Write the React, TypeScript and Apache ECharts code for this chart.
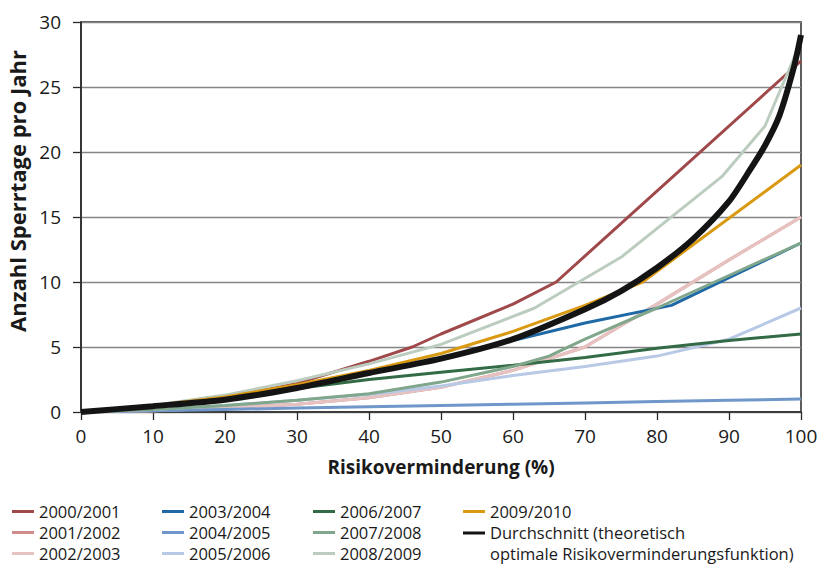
import React, { useEffect, useRef } from "react";
import * as echarts from "echarts";

// ---- data ----
const seriesNames = [
  "2000/2001",
  "2001/2002",
  "2002/2003",
  "2003/2004",
  "2004/2005",
  "2005/2006",
  "2006/2007",
  "2007/2008",
  "2008/2009",
  "2009/2010",
  "Durchschnitt (theoretisch optimale Risikoverminderungsfunktion)",
];

const d2000_2001 = [[0, 0], [10, 0.5], [20, 1.1], [30, 2.2], [40, 3.9], [46, 5], [50, 6.0], [60, 8.3], [66, 10], [100, 27]];
const d2001_2002 = [[0, 0], [10, 0.1], [20, 0.3], [30, 0.6], [40, 1.1], [50, 1.9], [60, 3.2], [70, 5.0], [80, 8.3], [90, 11.7], [100, 15]];
const d2002_2003 = [[0, 0], [10, 0.1], [20, 0.3], [30, 0.6], [40, 1.1], [50, 1.9], [60, 3.2], [70, 5.0], [80, 8.3], [90, 11.7], [100, 15]];
const d2003_2004 = [[0, 0], [10, 0.45], [20, 0.95], [30, 1.85], [40, 3.0], [50, 4.1], [56, 4.95], [70, 6.85], [82, 8.2], [100, 13]];
const d2004_2005 = [[0, 0], [10, 0.1], [20, 0.2], [30, 0.3], [40, 0.4], [50, 0.5], [60, 0.6], [70, 0.7], [80, 0.8], [90, 0.9], [100, 1]];
const d2005_2006 = [[0, 0], [10, 0.2], [20, 0.5], [30, 0.9], [40, 1.35], [50, 2.0], [60, 2.8], [70, 3.5], [80, 4.3], [90, 5.6], [100, 8]];
const d2006_2007 = [[0, 0], [10, 0.45], [20, 1.0], [30, 1.8], [40, 2.5], [50, 3.05], [60, 3.6], [70, 4.2], [80, 4.9], [90, 5.5], [100, 6]];
const d2007_2008 = [[0, 0], [10, 0.2], [20, 0.5], [30, 0.9], [40, 1.4], [50, 2.3], [60, 3.5], [65, 4.3], [70, 5.6], [80, 8.0], [90, 10.5], [100, 13]];
const d2008_2009 = [[0, 0], [10, 0.5], [20, 1.3], [30, 2.4], [40, 3.7], [50, 5.2], [63, 8.0], [75, 11.9], [89, 18.1], [95, 22], [100, 28.5]];
const d2009_2010 = [[0, 0], [10, 0.5], [20, 1.15], [30, 2.1], [40, 3.2], [50, 4.5], [60, 6.2], [70, 8.2], [78, 10.0], [100, 19]];
const dAverage = [[0, 0], [10, 0.45], [20, 0.95], [30, 1.85], [40, 3.0], [50, 4.1], [60, 5.6], [70, 7.9], [75, 9.3], [80, 11.1], [85, 13.3], [90, 16.2], [93, 18.7], [95, 20.5], [97, 22.8], [99, 26.5], [100, 29]];

const seriesData = [
  d2000_2001, d2001_2002, d2002_2003, d2003_2004, d2004_2005, d2005_2006,
  d2006_2007, d2007_2008, d2008_2009, d2009_2010, dAverage,
];

const seriesColors = [
  "#a0494b", "#d08c8a", "#e6c2c1", "#1f6aa6", "#6f97c9", "#b8c9e6",
  "#336b47", "#80a68b", "#bccdbf", "#d99a12", "#141414",
];

const xTicks = [0, 10, 20, 30, 40, 50, 60, 70, 80, 90, 100];
const yTicks = [0, 5, 10, 15, 20, 25, 30];

const FONT = "'Open Sans', 'Noto Sans', sans-serif";

export default function App() {
  const ref = useRef<HTMLDivElement>(null);
  useEffect(() => {
    if (!ref.current) return;
    const chart = echarts.init(ref.current, null, { renderer: "svg" });
    const legendText = { fontFamily: FONT, fontSize: 16.5, color: "#1a1a1a", lineHeight: 21 };
    const baseLegend = {
      orient: "vertical",
      itemWidth: 22,
      itemHeight: 3,
      itemGap: 0,
      icon: "rect",
      textStyle: legendText,
      selectedMode: false,
      padding: 0,
      height: 120,
      width: 400,
    };
    const avgName = seriesNames[10];
    const option: any = {
      animation: false,
      backgroundColor: "#ffffff",
      grid: {
        left: 81,
        right: 16,
        top: 22,
        bottom: 153,
        show: true,
        borderColor: "#2a2a2a",
        borderWidth: 1.5,
        containLabel: false,
        outerBoundsMode: "none",
      },
      xAxis: {
        type: "value",
        min: 0,
        max: 100,
        interval: 10,
        name: "Risikoverminderung (%)",
        nameLocation: "middle",
        nameGap: 45,
        nameTextStyle: { fontFamily: FONT, fontSize: 19, fontWeight: "bold", color: "#1a1a1a" },
        axisLine: { show: true, lineStyle: { color: "#2a2a2a", width: 1.5 } },
        axisTick: { show: true, inside: false, length: 8, lineStyle: { color: "#2a2a2a", width: 1.3 } },
        axisLabel: {
          fontFamily: FONT, fontSize: 19, color: "#1a1a1a", margin: 14,
          formatter: (v: number) => (xTicks.includes(v) ? String(v) : ""),
        },
        splitLine: { show: false },
      },
      yAxis: {
        type: "value",
        min: 0,
        max: 30,
        interval: 5,
        name: "Anzahl Sperrtage pro Jahr",
        nameLocation: "middle",
        nameGap: 50,
        nameTextStyle: {
          fontFamily: FONT, fontSize: 22, fontWeight: "bold", color: "#1a1a1a",
          padding: [0, 0, 0, 52],
        },
        axisLine: { show: true, lineStyle: { color: "#2a2a2a", width: 1.5 } },
        axisTick: { show: true, inside: false, length: 8, lineStyle: { color: "#2a2a2a", width: 1.3 } },
        axisLabel: {
          fontFamily: FONT, fontSize: 19, color: "#1a1a1a", margin: 20,
          formatter: (v: number) => (yTicks.includes(v) ? String(v) : ""),
        },
        splitLine: { show: true, lineStyle: { color: "#858585", width: 1.3 } },
      },
      legend: [
        { ...baseLegend, left: 12, top: 501, data: seriesNames.slice(0, 3) },
        { ...baseLegend, left: 162, top: 501, data: seriesNames.slice(3, 6) },
        { ...baseLegend, left: 313, top: 501, data: seriesNames.slice(6, 9) },
        { ...baseLegend, left: 463, top: 501, data: seriesNames.slice(9, 10) },
        {
          ...baseLegend,
          left: 463,
          top: 522,
          itemHeight: 24,
          icon: "path://M0,0H22V3H0Z M0,23H0.05V23.05H0Z",
          data: [avgName],
          formatter: () => "Durchschnitt (theoretisch\noptimale Risikoverminderungsfunktion)",
        },
      ],
      series: seriesNames.map((name, i) => ({
        name,
        type: "line",
        data: seriesData[i],
        showSymbol: false,
        symbol: "none",
        smooth: i === 10 ? 0.25 : false,
        color: seriesColors[i],
        lineStyle: { color: seriesColors[i], width: i === 10 ? 6 : 3 },
        z: 2 + i * 0.01,
      })),
    };
    chart.setOption(option);
    return () => chart.dispose();
  }, []);
  return (
    <div
      ref={ref}
      style={{ position: "absolute", left: 0, top: 0, width: 817, height: 565 }}
    />
  );
}
